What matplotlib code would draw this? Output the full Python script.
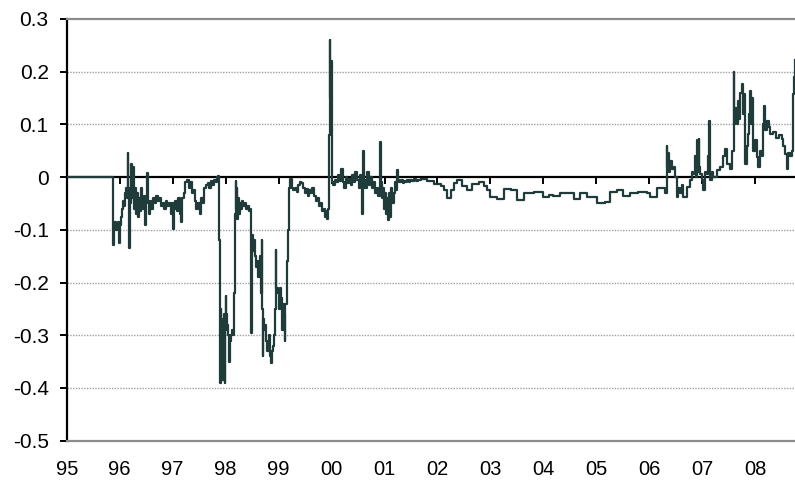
import numpy as np
import matplotlib.pyplot as plt

LINE = '#1f3c3a'

# readings by period (decimal year, spread)
t_flat = [1995.00, 1995.875]
s_flat = [0.0, 0.0]

t_9597 = [1995.88, 1995.89, 1995.91, 1995.93, 1995.95, 1995.97, 1995.99, 1996.00, 1996.02, 1996.04,
          1996.06, 1996.08, 1996.10, 1996.12, 1996.14, 1996.15, 1996.16, 1996.17, 1996.18, 1996.19,
          1996.21, 1996.22, 1996.24, 1996.25, 1996.27, 1996.29, 1996.31, 1996.33, 1996.35, 1996.37,
          1996.39, 1996.41, 1996.43, 1996.45, 1996.47, 1996.49, 1996.51, 1996.53, 1996.55, 1996.57,
          1996.60, 1996.63, 1996.66, 1996.69, 1996.72, 1996.75, 1996.78, 1996.81, 1996.84, 1996.87,
          1996.90, 1996.93, 1996.96, 1996.98, 1997.00, 1997.02, 1997.05, 1997.08, 1997.11, 1997.14,
          1997.16, 1997.18, 1997.21, 1997.24, 1997.27, 1997.30, 1997.33, 1997.36, 1997.39, 1997.42,
          1997.45, 1997.48, 1997.51, 1997.54, 1997.57, 1997.60, 1997.63, 1997.66, 1997.69, 1997.72,
          1997.75, 1997.78, 1997.81, 1997.84, 1997.86, 1997.87]
s_9597 = [-0.128, -0.095, -0.085, -0.100, -0.090, -0.085, -0.125, -0.090, -0.075, -0.060,
          -0.045, -0.055, -0.030, -0.020, -0.040, 0.045, -0.020, -0.060, -0.135, -0.050,
          -0.030, 0.024, -0.040, 0.020, -0.060, -0.020, -0.070, -0.030, -0.075, -0.040,
          -0.065, -0.020, -0.060, -0.035, -0.090, -0.040, 0.008, -0.050, -0.070, -0.045,
          -0.060, -0.040, -0.050, -0.035, -0.045, -0.040, -0.055, -0.050, -0.060, -0.045,
          -0.055, -0.050, -0.070, -0.050, -0.098, -0.060, -0.045, -0.065, -0.040, -0.070,
          -0.085, -0.040, -0.030, -0.010, -0.005, -0.020, -0.010, -0.030, -0.025, -0.045,
          -0.060, -0.050, -0.070, -0.040, -0.050, -0.020, -0.015, -0.012, -0.020, -0.008,
          -0.015, -0.005, -0.010, 0.000, 0.003, -0.005]

t_9899 = [1997.88, 1997.885, 1997.89, 1997.90, 1997.91, 1997.92, 1997.93, 1997.94, 1997.95, 1997.96,
          1997.97, 1997.98, 1997.99, 1998.00, 1998.01, 1998.02, 1998.03, 1998.05, 1998.06, 1998.07,
          1998.08, 1998.10, 1998.12, 1998.14, 1998.16, 1998.17, 1998.18, 1998.19, 1998.20, 1998.21,
          1998.22, 1998.23, 1998.25, 1998.27, 1998.29, 1998.31, 1998.33, 1998.36, 1998.39, 1998.42,
          1998.45, 1998.47, 1998.48, 1998.49, 1998.50, 1998.52, 1998.54, 1998.56, 1998.58, 1998.60,
          1998.62, 1998.64, 1998.66, 1998.68, 1998.69, 1998.70, 1998.71, 1998.73, 1998.75, 1998.77,
          1998.79, 1998.81, 1998.83, 1998.85, 1998.87, 1998.89, 1998.91, 1998.93, 1998.95, 1998.96,
          1998.98, 1999.00, 1999.02, 1999.04, 1999.06, 1999.08, 1999.10, 1999.12, 1999.13, 1999.15,
          1999.17, 1999.19, 1999.20, 1999.22, 1999.25, 1999.28, 1999.31, 1999.34]
s_9899 = [-0.120, -0.145, -0.230, -0.390, -0.250, -0.385, -0.270, -0.380, -0.300, -0.385,
          -0.260, -0.390, -0.280, -0.225, -0.260, -0.290, -0.280, -0.300, -0.330, -0.350,
          -0.310, -0.300, -0.290, -0.300, -0.220, -0.100, -0.070, -0.008, -0.060, -0.020,
          -0.080, -0.040, -0.070, -0.050, -0.060, -0.045, -0.055, -0.050, -0.060, -0.055,
          -0.065, -0.060, -0.296, -0.130, -0.110, -0.140, -0.120, -0.150, -0.170, -0.160,
          -0.190, -0.150, -0.220, -0.120, -0.250, -0.340, -0.270, -0.290, -0.280, -0.310,
          -0.330, -0.300, -0.340, -0.352, -0.330, -0.320, -0.300, -0.250, -0.138, -0.210,
          -0.220, -0.250, -0.210, -0.230, -0.290, -0.240, -0.260, -0.310, -0.240, -0.160,
          -0.100, -0.050, -0.020, -0.003, -0.020, -0.025, -0.020, -0.028]

t_9901 = [1999.37, 1999.40, 1999.43, 1999.46, 1999.49, 1999.52, 1999.55, 1999.58, 1999.61, 1999.64,
          1999.67, 1999.70, 1999.73, 1999.76, 1999.79, 1999.82, 1999.85, 1999.87, 1999.89, 1999.91,
          1999.93, 1999.95, 1999.96, 1999.97, 1999.98, 1999.99, 2000.00, 2000.01, 2000.03, 2000.06,
          2000.09, 2000.12, 2000.15, 2000.18, 2000.21, 2000.24, 2000.27, 2000.30, 2000.33, 2000.36,
          2000.39, 2000.42, 2000.45, 2000.48, 2000.51, 2000.54, 2000.56, 2000.58, 2000.59, 2000.60,
          2000.61, 2000.64, 2000.67, 2000.70, 2000.73, 2000.76, 2000.79, 2000.82, 2000.85, 2000.88,
          2000.91, 2000.92, 2000.93, 2000.95, 2000.97, 2000.99, 2001.01, 2001.03, 2001.05, 2001.07,
          2001.09, 2001.11, 2001.13, 2001.15, 2001.17, 2001.19, 2001.21, 2001.23, 2001.25, 2001.28,
          2001.31, 2001.34, 2001.37, 2001.40, 2001.43, 2001.46, 2001.49, 2001.52, 2001.56, 2001.60,
          2001.64]
s_9901 = [-0.015, -0.010, -0.012, -0.020, -0.030, -0.022, -0.035, -0.025, -0.030, -0.020,
          -0.035, -0.045, -0.040, -0.055, -0.050, -0.065, -0.060, -0.075, -0.065, -0.080,
          -0.060, -0.055, 0.080, 0.260, 0.150, 0.220, 0.050, -0.010, -0.015, -0.005,
          -0.010, 0.005, -0.008, 0.016, -0.010, -0.020, 0.000, -0.012, -0.003, -0.015,
          0.005, -0.010, 0.010, -0.005, -0.020, 0.005, -0.010, -0.070, -0.010, 0.050,
          -0.005, -0.020, 0.010, -0.015, 0.000, -0.020, -0.010, -0.030, -0.020, -0.035,
          -0.010, 0.066, -0.010, -0.040, -0.020, -0.060, -0.030, -0.070, -0.040, -0.082,
          -0.030, -0.075, -0.020, -0.050, -0.030, -0.010, -0.025, 0.013, -0.005, -0.010,
          -0.005, -0.012, -0.008, -0.010, -0.005, -0.010, -0.006, -0.008, -0.004, -0.007,
          -0.005]

t_0205 = [2001.68, 2001.81, 2001.93, 2002.06, 2002.12, 2002.18, 2002.25, 2002.31, 2002.37, 2002.47,
          2002.56, 2002.65, 2002.78, 2002.87, 2002.94, 2003.00, 2003.12, 2003.25, 2003.38, 2003.50,
          2003.63, 2003.72, 2003.82, 2004.00, 2004.10, 2004.19, 2004.32, 2004.44, 2004.57, 2004.70,
          2004.82, 2004.95, 2005.01, 2005.17, 2005.26, 2005.39, 2005.51, 2005.64, 2005.79, 2005.95,
          2006.02, 2006.14, 2006.27, 2006.30]
s_0205 = [-0.003, -0.008, -0.013, -0.016, -0.025, -0.040, -0.025, -0.012, -0.006, -0.016,
          -0.025, -0.013, -0.010, -0.016, -0.025, -0.038, -0.041, -0.022, -0.025, -0.044,
          -0.031, -0.030, -0.028, -0.038, -0.033, -0.035, -0.030, -0.031, -0.041, -0.031,
          -0.038, -0.038, -0.049, -0.047, -0.028, -0.025, -0.035, -0.031, -0.028, -0.030,
          -0.038, -0.020, -0.020, -0.030]

t_0608 = [2006.33, 2006.34, 2006.36, 2006.37, 2006.39, 2006.42, 2006.46, 2006.49, 2006.52, 2006.55,
          2006.58, 2006.61, 2006.64, 2006.71, 2006.77, 2006.80, 2006.83, 2006.86, 2006.88, 2006.90,
          2006.91, 2006.93, 2006.94, 2006.96, 2006.99, 2007.02, 2007.05, 2007.08, 2007.10, 2007.13,
          2007.14, 2007.15, 2007.18, 2007.21, 2007.27, 2007.34, 2007.40, 2007.43, 2007.46, 2007.52,
          2007.56, 2007.59, 2007.60, 2007.62, 2007.65, 2007.68, 2007.70, 2007.72, 2007.74, 2007.76,
          2007.78, 2007.80, 2007.81, 2007.84, 2007.87, 2007.89, 2007.90, 2007.92, 2007.93, 2007.96,
          2008.00, 2008.03, 2008.06, 2008.09, 2008.12, 2008.15, 2008.17, 2008.19, 2008.22, 2008.25,
          2008.28, 2008.34, 2008.40, 2008.45, 2008.50, 2008.53, 2008.56, 2008.59, 2008.62, 2008.66,
          2008.69, 2008.71, 2008.73, 2008.745]
s_0608 = [0.060, 0.020, 0.045, 0.010, 0.030, 0.015, 0.020, 0.000, -0.038, -0.020,
          -0.030, -0.015, -0.038, -0.019, -0.006, 0.010, 0.006, 0.040, 0.000, 0.070,
          0.010, 0.072, 0.020, 0.006, -0.006, -0.025, 0.010, 0.006, 0.040, 0.107,
          0.020, -0.006, 0.010, 0.000, 0.013, 0.019, 0.040, 0.053, 0.025, 0.016,
          0.050, 0.200, 0.100, 0.132, 0.100, 0.145, 0.110, 0.160, 0.176, 0.120,
          0.157, 0.080, 0.025, 0.060, 0.082, 0.120, 0.163, 0.100, 0.150, 0.050,
          0.070, 0.038, 0.019, 0.050, 0.040, 0.100, 0.135, 0.090, 0.107, 0.095,
          0.082, 0.085, 0.075, 0.080, 0.072, 0.060, 0.044, 0.016, 0.045, 0.040,
          0.050, 0.157, 0.190, 0.223]

year_ticks = list(range(1995, 2009))
year_labels = [f"{y % 100:02d}" for y in year_ticks]
y_ticks = [0.3, 0.2, 0.1, 0.0, -0.1, -0.2, -0.3, -0.4, -0.5]
y_labels = ['0.3', '0.2', '0.1', '0', '-0.1', '-0.2', '-0.3', '-0.4', '-0.5']

t = np.concatenate([t_flat, t_9597, t_9899, t_9901, t_0205, t_0608])
s = np.concatenate([s_flat, s_9597, s_9899, s_9901, s_0205, s_0608])

plt.rcParams['font.family'] = ['Liberation Sans', 'DejaVu Sans']

fig = plt.figure(figsize=(7.95, 4.84), dpi=100)
ax = fig.add_axes([66.7 / 795, 1 - 440.7 / 484, 1 - 66.7 / 795, (440.7 - 19) / 484])

ax.set_xlim(1995, 2008.75)
ax.set_ylim(-0.5, 0.3)

for yv in y_ticks[1:-1]:
    if yv != 0:
        ax.axhline(yv, color='#a0a0a0', lw=1.0, ls=(0, (1, 1)), zorder=1)

ax.plot(t, s, color=LINE, lw=1.6, drawstyle='steps-post', zorder=3)

ax.spines['top'].set_color('#8c8c8c')
ax.spines['top'].set_linewidth(1.6)
ax.spines['bottom'].set_color('#8c8c8c')
ax.spines['bottom'].set_linewidth(1.6)
ax.spines['right'].set_visible(False)
ax.spines['left'].set_color('black')
ax.spines['left'].set_linewidth(1.6)

ax.set_yticks(y_ticks)
ax.set_yticklabels(y_labels)
ax.tick_params(axis='y', direction='out', length=5, width=1.4, pad=8, labelsize=15)
ax.set_xticks(year_ticks)
ax.set_xticklabels(year_labels)
ax.tick_params(axis='x', length=0, pad=14, labelsize=14.5)

# zero axis with year ticks
zero_ax = ax.secondary_xaxis(0.5 / 0.8)
zero_ax.set_alignment('bottom')
zero_ax.set_xticks(year_ticks)
zero_ax.tick_params(axis='x', direction='out', length=5, width=1.4,
                    labelbottom=False, labeltop=False)
zero_ax.spines['bottom'].set_linewidth(1.6)
zero_ax.spines['bottom'].set_color('black')
zero_ax.set_zorder(2)

fig.savefig('out.png', dpi=100)
